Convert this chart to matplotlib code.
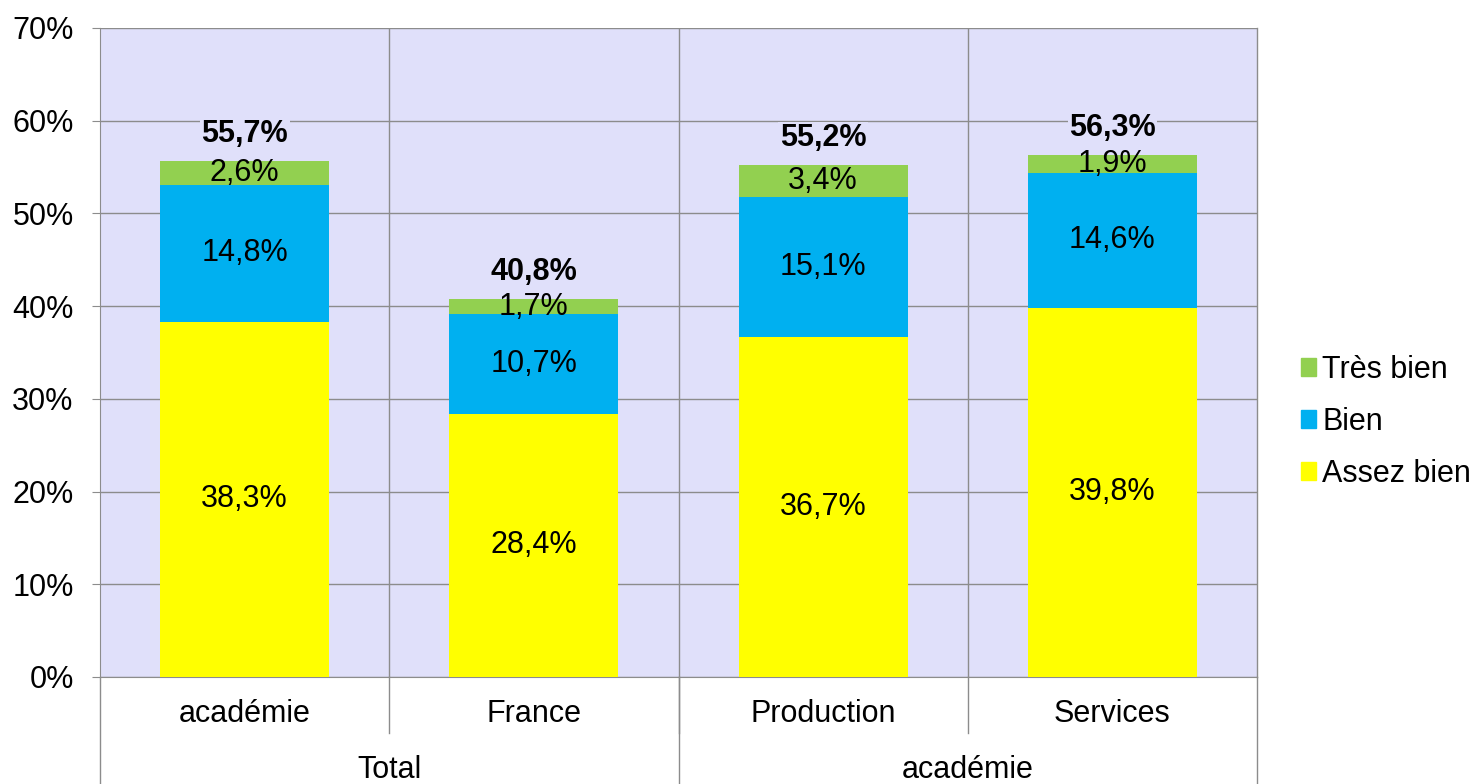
import matplotlib
matplotlib.use("Agg")
import matplotlib.pyplot as plt
import matplotlib.transforms as mtransforms
from matplotlib.patches import Patch

plt.rcParams['font.family'] = ['Liberation Sans', 'DejaVu Sans']

categories = ["académie", "France", "Production", "Services"]
groups = ["Total", "académie"]
group_spans = [(0, 1), (2, 3)]  # category index ranges per group
assez_bien = [38.3, 28.4, 36.7, 39.8]
bien = [14.8, 10.7, 15.1, 14.6]
tres_bien = [2.6, 1.7, 3.4, 1.9]
totals = [55.7, 40.8, 55.2, 56.3]

c_yellow = "#FFFF00"
c_blue = "#00B0F0"
c_green = "#92D050"
bg = "#E0E0FA"
grid_c = "#8C8C8C"


def fr(v):
    return f"{v:.1f}%".replace(".", ",")


fig = plt.figure(figsize=(14.8, 7.84), dpi=100)
ax = fig.add_axes([0.0676, 0.1365, 0.7817, 0.8278])
ax.set_facecolor(bg)

x = list(range(len(categories)))
w = 0.585
ax.bar(x, assez_bien, w, color=c_yellow, zorder=3)
bottom2 = assez_bien
ax.bar(x, bien, w, bottom=bottom2, color=c_blue, zorder=3)
bottom3 = [a + b for a, b in zip(assez_bien, bien)]
ax.bar(x, tres_bien, w, bottom=bottom3, color=c_green, zorder=3)

fs = 22
for i in x:
    ax.text(i, assez_bien[i] / 2, fr(assez_bien[i]), ha="center", va="center",
            fontsize=fs, zorder=4)
    ax.text(i, bottom2[i] + bien[i] / 2, fr(bien[i]), ha="center", va="center",
            fontsize=fs, zorder=4)
    ax.text(i, bottom3[i] + tres_bien[i] / 2, fr(tres_bien[i]), ha="center",
            va="center", fontsize=fs, zorder=4)
    ax.text(i, totals[i] + 2.9, fr(totals[i]), ha="center", va="center",
            fontsize=fs, fontweight="bold", zorder=4,
            bbox=dict(facecolor=bg, edgecolor="none", pad=1))

ax.set_xlim(-0.5, len(categories) - 0.5)
ax.set_ylim(0, 70)
ax.set_yticks(range(0, 71, 10))
ax.set_yticklabels([f"{v}%" for v in range(0, 71, 10)], fontsize=fs)
ax.yaxis.grid(True, color=grid_c, linewidth=1, zorder=0)
ax.tick_params(axis="y", length=6, color=grid_c, pad=13)
ax.set_xticks([])

for s in ["top", "right"]:
    ax.spines[s].set_visible(False)
ax.spines["left"].set_color(grid_c)
ax.spines["bottom"].set_color(grid_c)

trans = mtransforms.blended_transform_factory(ax.transData, ax.transAxes)
# category separators inside plot
for i in range(1, len(categories)):
    ax.plot([i - 0.5, i - 0.5], [0, 1], color=grid_c, lw=1, transform=trans,
            zorder=1)
    ax.plot([i - 0.5, i - 0.5], [0, -0.087], color=grid_c, lw=1,
            transform=trans, clip_on=False)
# group separators below axis
edges = [-0.5] + [g[1] + 0.5 for g in group_spans]
for e in edges:
    ax.plot([e, e], [0, -0.17], color=grid_c, lw=1, transform=trans,
            clip_on=False)
ax.plot([len(categories) - 0.5] * 2, [0, 1], color=grid_c, lw=1,
        transform=trans, clip_on=False)

for i, c in enumerate(categories):
    ax.text(i, -0.057, c, ha="center", va="center", fontsize=fs,
            transform=trans)
for g, (a, b) in zip(groups, group_spans):
    ax.text((a + b) / 2, -0.143, g, ha="center", va="center", fontsize=fs,
            transform=trans)

handles = [Patch(color=c_green, label="Très bien"),
           Patch(color=c_blue, label="Bien"),
           Patch(color=c_yellow, label="Assez bien")]
fig.legend(handles=handles, loc="center left", bbox_to_anchor=(0.879, 0.462),
           frameon=False, fontsize=fs, handlelength=0.5, handleheight=0.5,
           handletextpad=0.2, labelspacing=0.72, borderaxespad=0,
           borderpad=0)

fig.savefig("out.png", dpi=100)
